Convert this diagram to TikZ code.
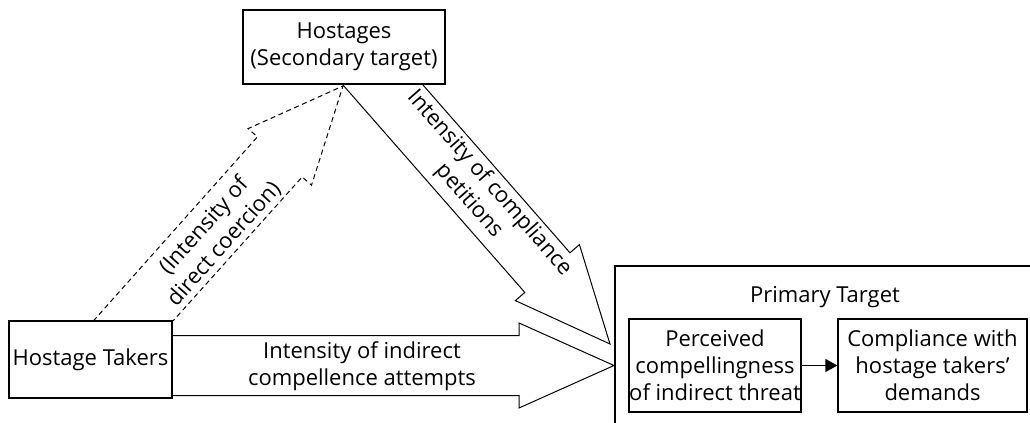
\documentclass[tikz,border=0pt]{standalone}
\usepackage{fontspec}
\setmainfont{Open Sans}
\usetikzlibrary{arrows.meta}
\begin{document}
\begin{tikzpicture}[x=0.5pt,y=-0.5pt,
  thickbox/.style={draw,line width=1pt,inner sep=0pt},
  thinbox/.style={draw,line width=0.6pt,inner sep=0pt},
  txt/.style={font=\fontsize{11}{13.5}\selectfont,align=center,inner sep=0pt},
  bigarrow/.style={draw,line width=0.5pt,line join=miter},
  dasharrow/.style={draw,line width=0.5pt,dash pattern=on 2.5pt off 1.8pt,line join=miter}]
\useasboundingbox (0,0) rectangle (1030,423);
% boxes
\node[thickbox,txt,minimum width=101pt,minimum height=37pt] (hostages) at (344,47) {Hostages\\(Secondary target)};
\node[thickbox,txt,minimum width=81.5pt,minimum height=38.5pt] (takers) at (90.5,359.5) {Hostage Takers};
\coordinate (pbl) at (615,423);
\coordinate (ptl) at (615,266);
\coordinate (ptr) at (1030,266);
\draw[line width=1pt] (pbl) -- (ptl) -- (ptr);
\node[txt] (primary) at (825,297) {Primary Target};
\node[thinbox,txt,minimum width=86pt,minimum height=46.5pt] (perc) at (715,365.5) {Perceived\\compellingness\\of indirect threat};
\node[thinbox,txt,minimum width=94.5pt,minimum height=46.5pt] (comp) at (932.5,365.5) {Compliance with\\hostage takers'\\demands};
\draw[line width=0.6pt,-{Triangle[length=6pt,width=6.5pt]}] (perc) -- (comp);
% horizontal big arrow
\coordinate (htip) at (614,365.5);
\draw[bigarrow] (172,335.5) -- (519,335.5) -- (519,323) -- (htip) -- (519,408) -- (519,395.5) -- (172,395.5);
\node[txt] (hlabel) at (362,366) {Intensity of indirect\\compellence attempts};
% compliance petitions arrow
\coordinate (ctip) at (610,344);
\draw[bigarrow] (343,85) -- (524.8,292.4) -- (515.4,300.6) -- (ctip) -- (579.4,244.6) -- (570,252.8) -- (423,85);
\node[txt,rotate=-48.8] (clabel) at (479,192) {Intensity of compliance\\petitions};
% direct coercion dashed arrow
\coordinate (dtip) at (343,86);
\draw[dasharrow] (93.3,321) -- (257.4,136.9) -- (248.1,128.6) -- (dtip) -- (311.5,185.2) -- (302.2,176.9) -- (173,321);
\node[txt,rotate=48.2] (dlabel) at (214,235) {(Intensity of\\direct coercion)};
\end{tikzpicture}
\end{document}
